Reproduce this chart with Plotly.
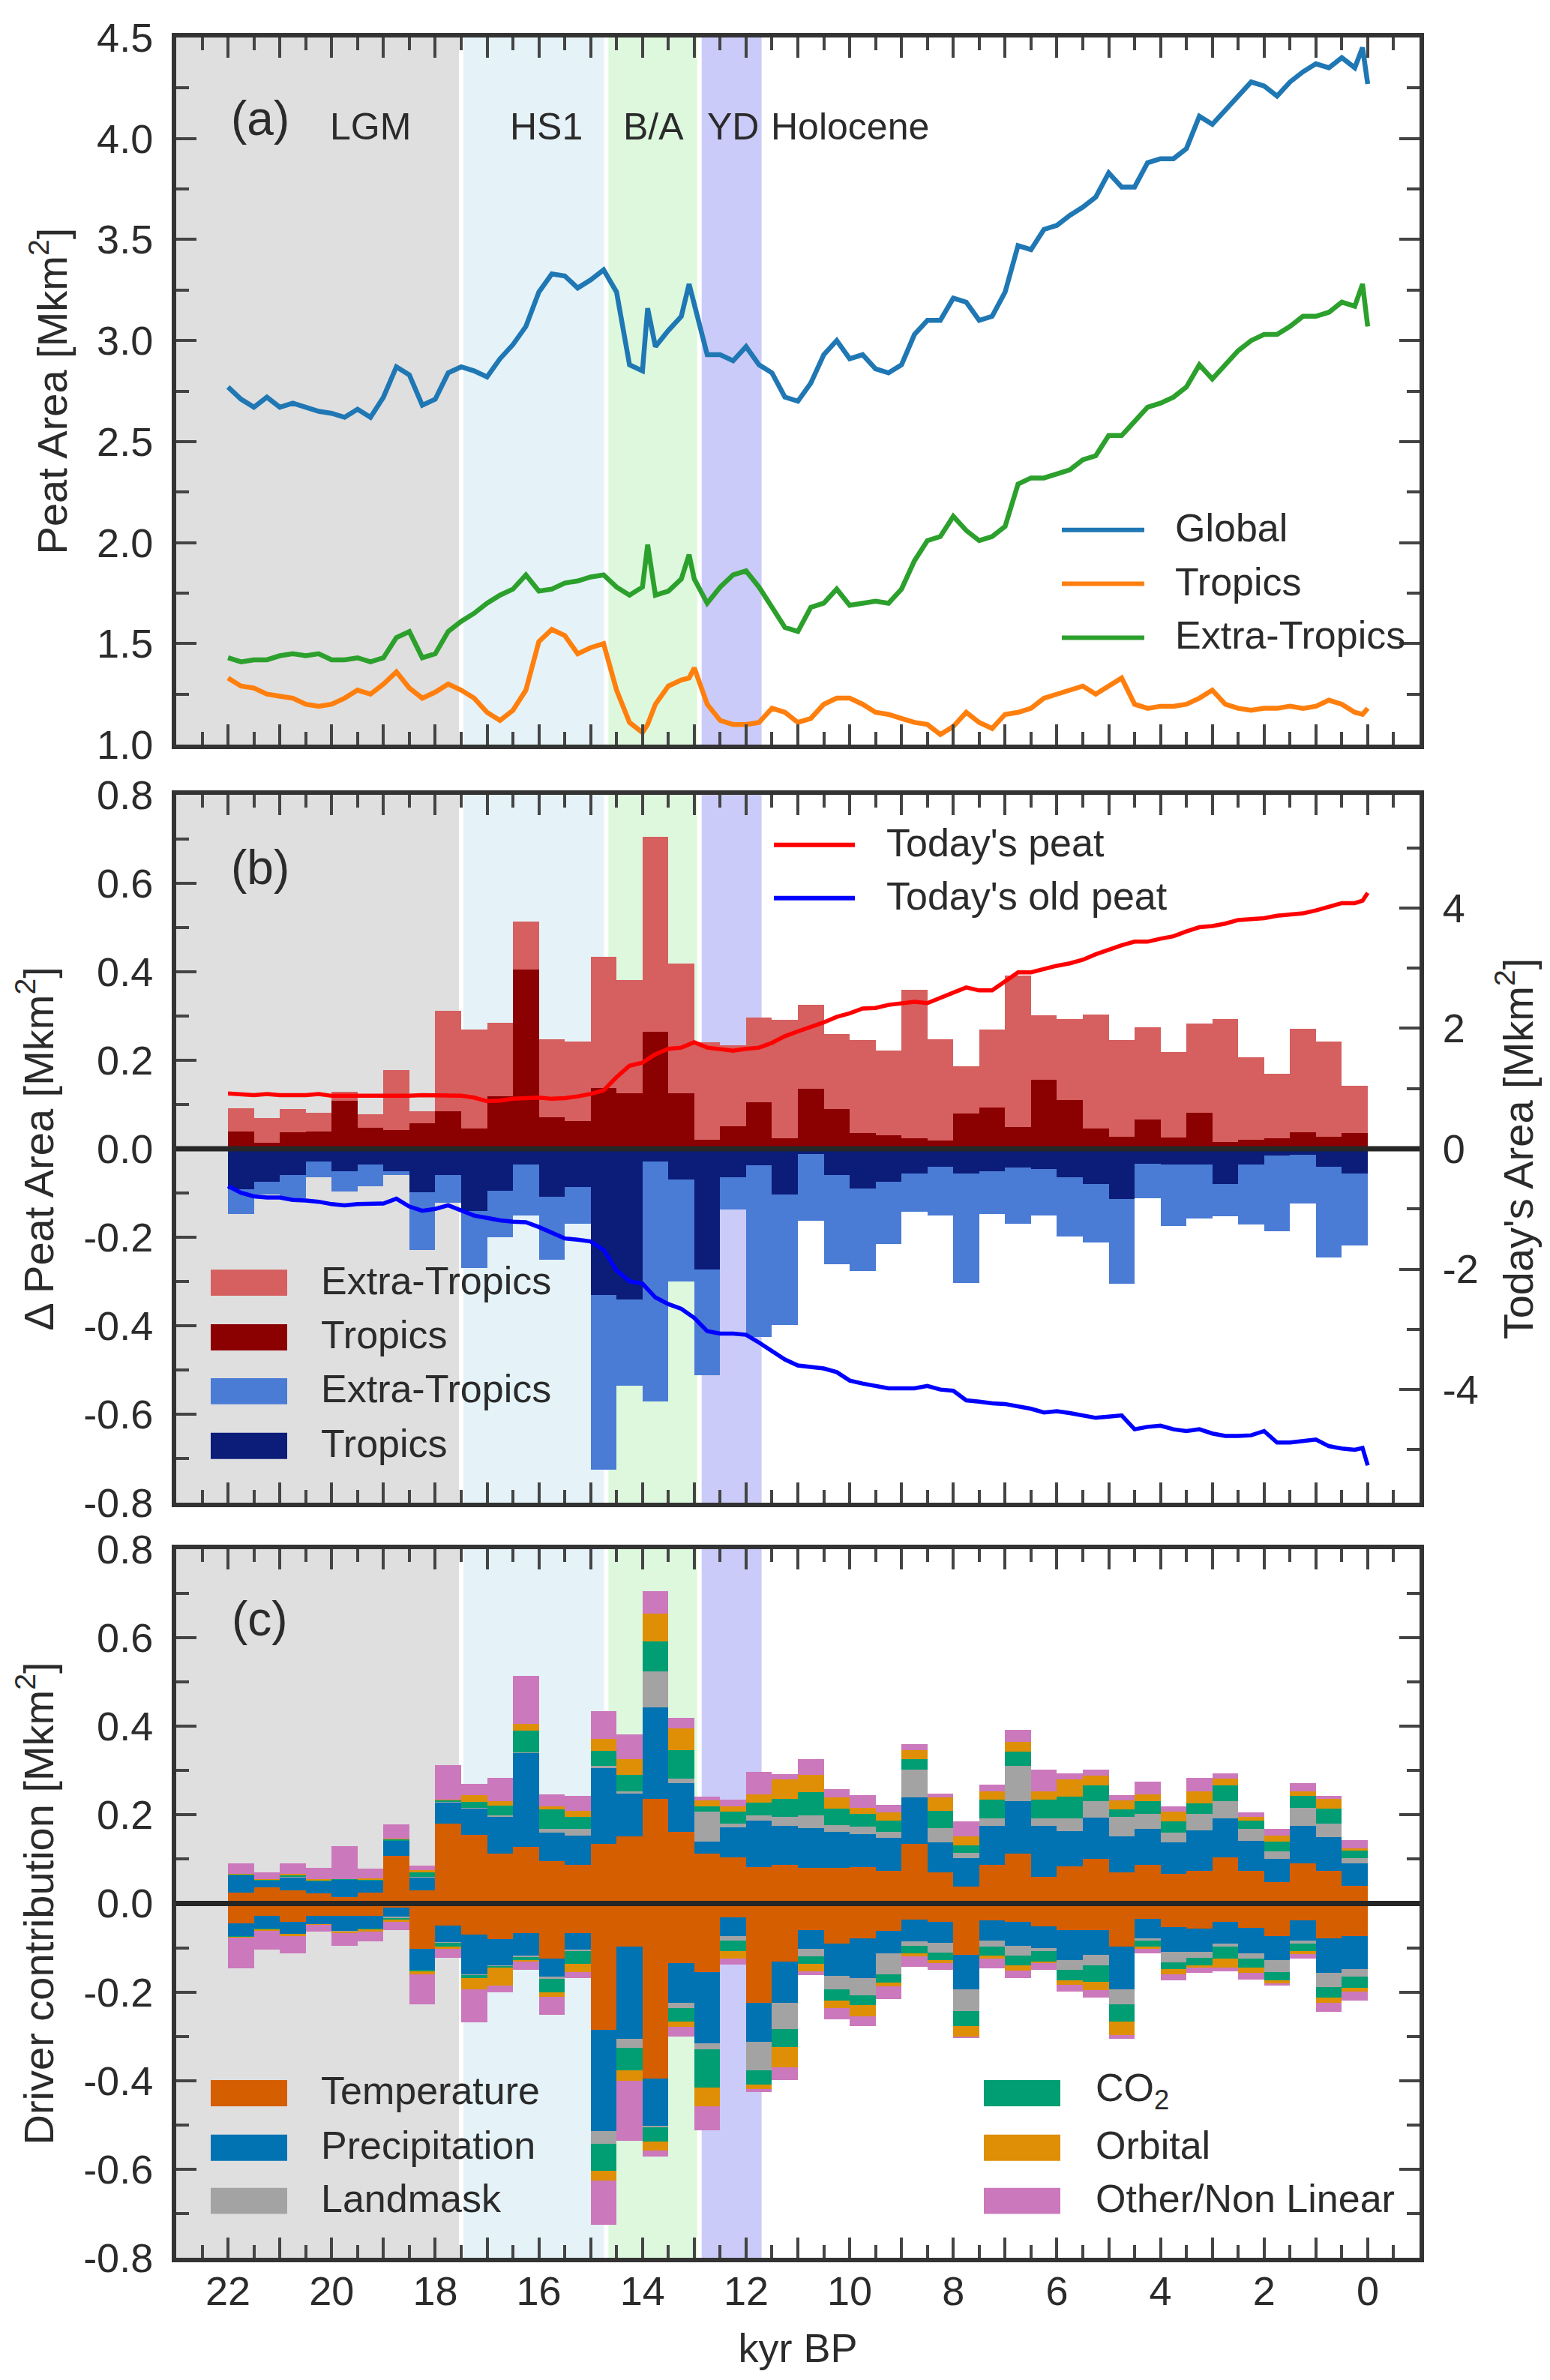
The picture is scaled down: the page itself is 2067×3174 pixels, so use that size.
#!/usr/bin/env python3
"""
Peat area since the Last Glacial Maximum in three stacked panels:
(a) total peat area, (b) gains / losses per 500-yr bin with today's peat,
(c) the contribution of each climate driver to those gains and losses.
"""

import plotly.graph_objects as go

# ---------------------------------------------------------------- panel (a)
AGE_A = [22.0, 21.75, 21.5, 21.25, 21.0, 20.75, 20.5, 20.25, 20.0, 19.75,
         19.5, 19.25, 19.0, 18.75, 18.5, 18.25, 18.0, 17.75, 17.5, 17.25,
         17.0, 16.75, 16.5, 16.25, 16.0, 15.75, 15.5, 15.25, 15.0, 14.75,
         14.5, 14.25, 14.0, 13.9, 13.75, 13.5, 13.25, 13.1, 13.0, 12.75,
         12.5, 12.25, 12.0, 11.75, 11.5, 11.25, 11.0, 10.75, 10.5, 10.25,
         10.0, 9.75, 9.5, 9.25, 9.0, 8.75, 8.5, 8.25, 8.0, 7.75,
         7.5, 7.25, 7.0, 6.75, 6.5, 6.25, 6.0, 5.75, 5.5, 5.25,
         5.0, 4.75, 4.5, 4.25, 4.0, 3.75, 3.5, 3.25, 3.0, 2.75,
         2.5, 2.25, 2.0, 1.75, 1.5, 1.25, 1.0, 0.75, 0.5, 0.25,
         0.1, 0.0]

GLOBAL = [2.77, 2.71, 2.67, 2.72, 2.67, 2.69, 2.67, 2.65,
          2.64, 2.62, 2.66, 2.62, 2.72, 2.87, 2.83, 2.68,
          2.71, 2.84, 2.87, 2.85, 2.82, 2.91, 2.98, 3.07,
          3.24, 3.33, 3.32, 3.26, 3.30, 3.35, 3.24, 2.88,
          2.85, 3.16, 2.97, 3.05, 3.12, 3.28,
          3.18, 2.93, 2.93, 2.90, 2.97, 2.88, 2.84, 2.72,
          2.70, 2.79, 2.93, 3.00, 2.91, 2.93, 2.86, 2.84,
          2.88, 3.03, 3.10, 3.10, 3.21, 3.19, 3.10, 3.12,
          3.24, 3.47, 3.45, 3.55, 3.57, 3.62, 3.66, 3.71,
          3.83, 3.76, 3.76, 3.88, 3.90, 3.90, 3.95, 4.11,
          4.07, 4.14, 4.21, 4.28, 4.26, 4.21, 4.28, 4.33,
          4.37, 4.35, 4.40, 4.35, 4.45, 4.27]

TROPICS = [1.33, 1.29, 1.28, 1.25, 1.24, 1.23, 1.20, 1.19,
           1.20, 1.23, 1.27, 1.25, 1.30, 1.36, 1.28, 1.23,
           1.26, 1.30, 1.27, 1.23, 1.16, 1.12, 1.17, 1.27,
           1.51, 1.57, 1.54, 1.45, 1.48, 1.50, 1.27, 1.11,
           1.06, 1.10, 1.20, 1.29, 1.32, 1.33,
           1.38, 1.20, 1.12, 1.10, 1.10, 1.11, 1.18, 1.16,
           1.11, 1.13, 1.20, 1.23, 1.23, 1.20, 1.16, 1.15,
           1.13, 1.11, 1.10, 1.05, 1.09, 1.16, 1.11, 1.08,
           1.15, 1.16, 1.18, 1.23, 1.25, 1.27, 1.29, 1.25,
           1.29, 1.33, 1.20, 1.18, 1.19, 1.19, 1.20, 1.23,
           1.27, 1.20, 1.18, 1.17, 1.18, 1.18, 1.19, 1.18,
           1.19, 1.22, 1.20, 1.16, 1.15, 1.18]

EXTRA_TROPICS = [1.43, 1.41, 1.42, 1.42, 1.44, 1.45, 1.44, 1.45,
                 1.42, 1.42, 1.43, 1.41, 1.43, 1.53, 1.56, 1.43,
                 1.45, 1.56, 1.61, 1.65, 1.70, 1.74, 1.77, 1.84,
                 1.76, 1.77, 1.80, 1.81, 1.83, 1.84, 1.78, 1.74,
                 1.78, 1.99, 1.74, 1.76, 1.82, 1.94,
                 1.82, 1.70, 1.78, 1.84, 1.86, 1.78, 1.68, 1.58,
                 1.56, 1.68, 1.70, 1.77, 1.69, 1.70, 1.71, 1.70,
                 1.77, 1.91, 2.01, 2.03, 2.13, 2.06, 2.01, 2.03,
                 2.08, 2.29, 2.32, 2.32, 2.34, 2.36, 2.41, 2.43,
                 2.53, 2.53, 2.60, 2.67, 2.69, 2.72, 2.77, 2.88,
                 2.81, 2.88, 2.95, 3.00, 3.03, 3.03, 3.07, 3.12,
                 3.12, 3.14, 3.19, 3.17, 3.28, 3.07]

# ---------------------------------------------------------------- panel (b)
AGE_B = [22.0, 21.75, 21.5, 21.25, 21.0, 20.75, 20.5, 20.25, 20.0, 19.75,
         19.5, 19.25, 19.0, 18.75, 18.5, 18.25, 18.0, 17.75, 17.5, 17.25,
         17.0, 16.75, 16.5, 16.25, 16.0, 15.75, 15.5, 15.25, 15.0, 14.75,
         14.5, 14.25, 14.0, 13.75, 13.5, 13.25, 13.0, 12.75, 12.5, 12.25,
         12.0, 11.75, 11.5, 11.25, 11.0, 10.75, 10.5, 10.25, 10.0, 9.75,
         9.5, 9.25, 9.0, 8.75, 8.5, 8.25, 8.0, 7.75, 7.5, 7.25,
         7.0, 6.75, 6.5, 6.25, 6.0, 5.75, 5.5, 5.25, 5.0, 4.75,
         4.5, 4.25, 4.0, 3.75, 3.5, 3.25, 3.0, 2.75, 2.5, 2.25,
         2.0, 1.75, 1.5, 1.25, 1.0, 0.75, 0.5, 0.25, 0.1, 0.0]

TODAY_PEAT = [0.92, 0.91, 0.89, 0.91, 0.89, 0.89, 0.89, 0.91,
              0.88, 0.88, 0.88, 0.88, 0.87, 0.88, 0.88, 0.89,
              0.89, 0.89, 0.88, 0.85, 0.79, 0.80, 0.83, 0.84,
              0.85, 0.83, 0.84, 0.87, 0.91, 0.97, 1.19, 1.38,
              1.43, 1.57, 1.66, 1.68, 1.77, 1.68, 1.65, 1.63,
              1.66, 1.68, 1.76, 1.87, 1.95, 2.02, 2.10, 2.19,
              2.25, 2.33, 2.34, 2.39, 2.42, 2.44, 2.42, 2.51,
              2.59, 2.68, 2.63, 2.63, 2.78, 2.93, 2.93, 2.99,
              3.04, 3.08, 3.14, 3.23, 3.31, 3.38, 3.44, 3.44,
              3.49, 3.53, 3.61, 3.68, 3.70, 3.74, 3.80, 3.82,
              3.83, 3.87, 3.89, 3.91, 3.96, 4.02, 4.08, 4.08,
              4.12, 4.25]

TODAY_OLD_PEAT = [-0.62, -0.73, -0.79, -0.81, -0.81, -0.85, -0.86, -0.88,
                  -0.92, -0.94, -0.92, -0.92, -0.91, -0.83, -0.96, -1.03,
                  -1.00, -0.94, -1.03, -1.11, -1.15, -1.19, -1.21, -1.22,
                  -1.30, -1.39, -1.49, -1.51, -1.54, -1.68, -2.02, -2.20,
                  -2.24, -2.47, -2.58, -2.66, -2.81, -3.03, -3.07, -3.07,
                  -3.09, -3.22, -3.37, -3.50, -3.60, -3.62, -3.65, -3.71,
                  -3.85, -3.90, -3.94, -3.98, -3.98, -3.98, -3.94, -4.00,
                  -4.02, -4.18, -4.20, -4.23, -4.24, -4.28, -4.32, -4.38,
                  -4.36, -4.39, -4.43, -4.47, -4.45, -4.43, -4.66, -4.62,
                  -4.60, -4.66, -4.69, -4.66, -4.73, -4.77, -4.77, -4.76,
                  -4.69, -4.88, -4.88, -4.85, -4.83, -4.94, -4.98, -5.00,
                  -4.97, -5.26]

# 500-yr bins (centre of each bin, kyr BP)
BIN_AGE = [21.75, 21.25, 20.75, 20.25, 19.75, 19.25, 18.75, 18.25,
           17.75, 17.25, 16.75, 16.25, 15.75, 15.25, 14.75, 14.25,
           13.75, 13.25, 12.75, 12.25, 11.75, 11.25, 10.75, 10.25,
           9.75, 9.25, 8.75, 8.25, 7.75, 7.25, 6.75, 6.25,
           5.75, 5.25, 4.75, 4.25, 3.75, 3.25, 2.75, 2.25,
           1.75, 1.25, 0.75, 0.25]

GAIN_EXTRA = [.052, .057, .053, .042, .020, .031, .135, .028,
              .227, .225, .165, .109, .175, .181, .296, .256,
              .440, .293, .220, .183, .191, .268, .190, .169,
              .209, .191, .337, .230, .107, .175, .343, .146,
              .184, .257, .218, .208, .193, .201, .279, .185,
              .146, .235, .215, .107]
GAIN_TROPICS = [.039, .013, .037, .039, .109, .047, .043, .057,
                .085, .045, .119, .405, .072, .062, .138, .125,
                .265, .126, .021, .051, .106, .024, .136, .090,
                .036, .031, .023, .018, .079, .094, .049, .156,
                .110, .046, .027, .067, .026, .082, .015, .021,
                .023, .037, .028, .036]
LOSS_EXTRA = [-.055, -.030, -.053, -.036, -.045, -.049, -.009, -.129,
              -.063, -.128, -.106, -.114, -.143, -.082, -.396, -.196,
              -.543, -.231, -.240, -.074, -.388, -.295, -.150, -.202,
              -.187, -.141, -.088, -.109, -.249, -.096, -.126, -.105,
              -.134, -.132, -.192, -.079, -.138, -.121, -.074, -.135,
              -.171, -.111, -.205, -.164]
LOSS_TROPICS = [-.092, -.074, -.059, -.028, -.051, -.036, -.051, -.099,
                -.059, -.141, -.094, -.036, -.108, -.087, -.330, -.340,
                -.028, -.069, -.272, -.064, -.038, -.103, -.012, -.059,
                -.089, -.074, -.055, -.041, -.055, -.051, -.043, -.045,
                -.065, -.080, -.113, -.033, -.036, -.036, -.079, -.036,
                -.015, -.013, -.040, -.055]

# ---------------------------------------------------------------- panel (c)
TEMP_POS = [.024, .036, .030, .023, .014, .025, .107, .030,
            .181, .155, .112, .128, .095, .087, .134, .152,
            .236, .161, .113, .105, .082, .088, .080, .080,
            .082, .073, .134, .071, .038, .088, .113, .060,
            .084, .100, .071, .087, .067, .074, .104, .074,
            .049, .090, .074, .040]
PREC_POS = [.041, .016, .030, .028, .040, .027, .035, .029,
            .047, .060, .084, .213, .065, .067, .171, .096,
            .206, .111, .027, .067, .105, .087, .091, .082,
            .075, .075, .106, .067, .064, .087, .119, .116,
            .079, .094, .080, .082, .071, .091, .089, .068,
            .051, .085, .076, .051]
LAND_POS = [0, 0, .001, 0, 0, 0, 0, .001,
            .001, .001, .003, .001, .009, .015, .006, .005,
            .082, .010, .067, .009, .012, .020, .028, .015,
            .016, .014, .062, .033, .012, .018, .078, .017,
            .030, .037, .044, .033, .022, .037, .038, .027,
            .017, .041, .031, .012]
CO2_POS = [.001, .002, .003, .002, .001, .003, .003, .010,
           .004, .014, .022, .049, .043, .027, .033, .037,
           .068, .064, .013, .027, .029, .042, .052, .037,
           .029, .025, .024, .039, .018, .042, .033, .042,
           .049, .035, .017, .029, .026, .024, .036, .018,
           .023, .027, .033, .016]
ORB_POS = [.001, .001, .003, .002, 0, .002, .002, .006,
           .002, .014, .010, .015, .008, .014, .028, .036,
           .062, .049, .013, .011, .018, .043, .039, .026,
           .014, .019, .020, .030, .020, .018, .022, .019,
           .039, .023, .021, .016, .021, .028, .015, .008,
           .014, .010, .022, .006]
OTHER_POS = [.024, .015, .023, .026, .074, .021, .031, .009,
             .077, .026, .053, .108, .027, .033, .062, .055,
             .051, .024, .008, .015, .051, .012, .036, .019,
             .029, .016, .014, .008, .034, .016, .027, .048,
             .013, .014, .012, .028, .012, .029, .012, .011,
             .015, .019, .007, .018]

TEMP_NEG = [-.044, -.028, -.041, -.028, -.028, -.028, -.010, -.103,
            -.050, -.070, -.080, -.067, -.124, -.067, -.286, -.098,
            -.395, -.134, -.155, -.031, -.225, -.131, -.060, -.091,
            -.078, -.062, -.036, -.042, -.116, -.038, -.042, -.052,
            -.060, -.060, -.098, -.034, -.053, -.057, -.042, -.055,
            -.074, -.038, -.078, -.074]
PREC_NEG = [-.030, -.029, -.028, -.019, -.034, -.029, -.019, -.047,
            -.038, -.090, -.060, -.052, -.041, -.038, -.228, -.207,
            -.107, -.091, -.160, -.043, -.087, -.094, -.043, -.072,
            -.090, -.050, -.050, -.047, -.077, -.046, -.054, -.048,
            -.067, -.056, -.096, -.044, -.056, -.052, -.049, -.057,
            -.053, -.046, -.079, -.074]
LAND_NEG = [-.001, -.001, 0, 0, -.002, -.001, -.004, -.001,
            -.001, -.002, -.001, -.002, -.005, -.002, -.029, -.021,
            -.004, -.011, -.015, -.010, -.065, -.059, -.016, -.031,
            -.039, -.048, -.010, -.022, -.050, -.014, -.021, -.007,
            -.023, -.024, -.034, -.006, -.023, -.013, -.007, -.012,
            -.028, -.006, -.032, -.017]
CO2_NEG = [-.001, -.001, -.001, 0, -.001, -.002, -.004, -.002,
           -.008, -.007, -.004, -.006, -.030, -.030, -.060, -.051,
           -.032, -.030, -.085, -.023, -.031, -.040, -.018, -.026,
           -.023, -.019, -.016, -.016, -.033, -.019, -.023, -.024,
           -.023, -.036, -.039, -.014, -.016, -.018, -.026, -.021,
           -.018, -.018, -.023, -.026]
ORB_NEG = [-.001, -.003, -.003, -.001, -.001, -.003, -.004, -.007,
           -.006, -.024, -.041, -.004, -.010, -.018, -.023, -.023,
           -.020, -.013, -.043, -.017, -.011, -.046, -.016, -.016,
           -.025, -.008, -.007, -.007, -.026, -.007, -.012, -.004,
           -.010, -.020, -.030, -.004, -.012, -.005, -.021, -.012,
           -.008, -.006, -.013, -.007]
OTHER_NEG = [-.070, -.042, -.039, -.016, -.030, -.022, -.019, -.068,
             -.019, -.076, -.014, -.019, -.041, -.014, -.100, -.136,
             -.013, -.021, -.054, -.014, -.007, -.028, -.009, -.025,
             -.021, -.028, -.024, -.016, -.002, -.023, -.017, -.015,
             -.016, -.016, -.008, -.010, -.014, -.012, -.008, -.014,
             -.005, -.010, -.020, -.021]

# climate periods (kyr BP)
PERIOD_NAMES = ["LGM", "HS1", "B/A", "YD"]
PERIOD_START = [23.0, 17.5, 14.7, 12.9]
PERIOD_END = [17.5, 14.7, 12.9, 11.7]

# ---------------------------------------------------------------- styling
FONT = "Liberation Sans, Arial, Helvetica, sans-serif"
TEXT = "#2b2b2b"
FRAME = "#333333"
TICK = "#444444"

SIZE_TICK = 54
SIZE_LABEL = 52
SIZE_TITLE = 56
SIZE_PANEL = 64
SIZE_PERIOD = 50

COL_GLOBAL = "#1f77b4"
COL_TROP = "#ff7f0e"
COL_EXTRA = "#2ca02c"
COL_GAIN_EXTRA = "#d65f5f"
COL_GAIN_TROP = "#8b0000"
COL_LOSS_EXTRA = "#4a7bd5"
COL_LOSS_TROP = "#0b1c79"
PERIOD_COLORS = ["#dfdfdf", "#e5f3f8", "#ddf8dd", "#cbcbf9"]

DRIVERS = [
    ("Temperature", "#d55e00", TEMP_POS, TEMP_NEG),
    ("Precipitation", "#0173b2", PREC_POS, PREC_NEG),
    ("Landmask", "#a3a3a3", LAND_POS, LAND_NEG),
    ("CO<sub>2</sub>", "#029e73", CO2_POS, CO2_NEG),
    ("Orbital", "#de8f05", ORB_POS, ORB_NEG),
    ("Other/Non Linear", "#cc78bc", OTHER_POS, OTHER_NEG),
]

# figure geometry in pixels
W, H = 2067, 3174
LEFT, RIGHT, TOP, BOTTOM = 227, 1885, 36, 3003


def px(x):
    """Horizontal pixel -> paper coordinate."""
    return (x - LEFT) / (RIGHT - LEFT)


def py(y):
    """Vertical pixel -> paper coordinate."""
    return (BOTTOM - y) / (BOTTOM - TOP)


def axis_style(**extra):
    """Common matplotlib-'ticks' look for every axis."""
    style = {
        "showline": True,
        "linewidth": 6,
        "linecolor": FRAME,
        "ticks": "inside",
        "ticklen": 27,
        "tickwidth": 4,
        "tickcolor": TICK,
        "showgrid": False,
        "zeroline": False,
        "tickfont": {"size": SIZE_TICK, "color": TEXT},
        "ticklabelstandoff": 14,
    }
    style.update(extra)
    return style


def minor(vals):
    return {"tickvals": vals, "ticks": "inside", "ticklen": 17,
            "tickwidth": 4, "tickcolor": TICK, "showgrid": False}


def fmt(v, nd):
    return f"{v:.{nd}f}"


X_EVEN = list(range(0, 23, 2))
X_ODD = list(range(1, 23, 2))
X_ALL = list(range(0, 23))
X_MINOR = [v + 0.5 for v in range(-1, 23)]

fig = go.Figure()

# ---- panel (a) lines
for name, vals, col in [("Global", GLOBAL, COL_GLOBAL),
                        ("Tropics", TROPICS, COL_TROP),
                        ("Extra-Tropics", EXTRA_TROPICS, COL_EXTRA)]:
    fig.add_trace(go.Scatter(x=AGE_A, y=vals, name=name, mode="lines",
                             line={"color": col, "width": 6.5},
                             xaxis="x", yaxis="y"))

# ---- panel (b) bars + today's peat lines
for name, vals, col in [("Tropics", GAIN_TROPICS, COL_GAIN_TROP),
                        ("Extra-Tropics", GAIN_EXTRA, COL_GAIN_EXTRA),
                        ("Tropics", LOSS_TROPICS, COL_LOSS_TROP),
                        ("Extra-Tropics", LOSS_EXTRA, COL_LOSS_EXTRA)]:
    fig.add_trace(go.Bar(x=BIN_AGE, y=vals, name=name, width=0.5,
                         marker={"color": col, "line": {"width": 0}},
                         xaxis="x2", yaxis="y2"))

fig.add_trace(go.Scatter(x=AGE_B, y=TODAY_PEAT, name="Today's peat",
                         mode="lines", line={"color": "#ff0000", "width": 5.5},
                         xaxis="x2", yaxis="y3"))
fig.add_trace(go.Scatter(x=AGE_B, y=TODAY_OLD_PEAT, name="Today's old peat",
                         mode="lines", line={"color": "#0000ff", "width": 5.5},
                         xaxis="x2", yaxis="y3"))

# ---- panel (c) driver bars (positive stack, then negative stack)
for name, col, pos, _ in DRIVERS:
    fig.add_trace(go.Bar(x=BIN_AGE, y=pos, name=name, width=0.5,
                         marker={"color": col, "line": {"width": 0}},
                         xaxis="x3", yaxis="y4"))
for name, col, _, neg in DRIVERS:
    fig.add_trace(go.Bar(x=BIN_AGE, y=neg, name=name, width=0.5,
                         marker={"color": col, "line": {"width": 0}},
                         xaxis="x3", yaxis="y4"))

# empty trace that carries the unlabelled odd-kyr ticks of panel (c)
fig.add_trace(go.Scatter(x=[], y=[], xaxis="x4", yaxis="y4",
                         hoverinfo="skip"))

# ---- period shading, white separators and zero lines
shapes = []
for xr, yr in [("x", "y domain"), ("x2", "y2 domain"), ("x3", "y4 domain")]:
    for x0, x1, col in zip(PERIOD_START, PERIOD_END, PERIOD_COLORS):
        shapes.append({"type": "rect", "xref": xr, "yref": yr,
                       "x0": x0, "x1": x1, "y0": 0, "y1": 1,
                       "fillcolor": col, "line": {"width": 0},
                       "layer": "below"})
    for xb in PERIOD_END[:3]:
        shapes.append({"type": "line", "xref": xr, "yref": yr,
                       "x0": xb, "x1": xb, "y0": 0, "y1": 1,
                       "line": {"color": "white", "width": 6},
                       "layer": "below"})
for xr, yr in [("x2 domain", "y2"), ("x3 domain", "y4")]:
    shapes.append({"type": "line", "xref": xr, "yref": yr,
                   "x0": 0, "x1": 1, "y0": 0, "y1": 0,
                   "line": {"color": "#262626", "width": 7},
                   "layer": "above"})

annotations = []


def label(x, y, text, size=SIZE_LABEL, xref="paper", yref="paper",
          xanchor="left"):
    annotations.append({"x": x, "y": y, "xref": xref, "yref": yref,
                        "text": text, "showarrow": False,
                        "xanchor": xanchor, "yanchor": "middle",
                        "font": {"size": size, "color": TEXT}})


# panel letters and period names
label(21.38, 4.10, "(a)", SIZE_PANEL, "x", "y", "center")
label(21.38, 0.635, "(b)", SIZE_PANEL, "x2", "y2", "center")
label(21.38, 0.642, "(c)", SIZE_PANEL, "x3", "y4", "center")
for txt, xc in zip(PERIOD_NAMES + ["Holocene"],
                   [19.25, 15.85, 13.78, 12.25, 10.0]):
    label(xc, 4.06, txt, SIZE_PERIOD, "x", "y", "center")


def line_key(x0, x1, xt, y, col, text, width):
    shapes.append({"type": "line", "xref": "paper", "yref": "paper",
                   "x0": px(x0), "x1": px(x1), "y0": py(y), "y1": py(y),
                   "line": {"color": col, "width": width}})
    label(px(xt), py(y - 3), text)


def patch_key(x0, x1, xt, y, col, text):
    shapes.append({"type": "rect", "xref": "paper", "yref": "paper",
                   "x0": px(x0), "x1": px(x1),
                   "y0": py(y + 17.5), "y1": py(y - 17.5),
                   "fillcolor": col, "line": {"width": 0}})
    label(px(xt), py(y - 3), text)


# legend (a)
for y, col, txt in [(694, COL_GLOBAL, "Global"), (766, COL_TROP, "Tropics"),
                    (838, COL_EXTRA, "Extra-Tropics")]:
    line_key(1408, 1518, 1557, y, col, txt, 6)
# legend (b)
line_key(1024, 1132, 1172, 1115, "#ff0000", "Today's peat", 6)
line_key(1024, 1132, 1172, 1186, "#0000ff", "Today's old peat", 6)
for y, col, txt in [(1700, COL_GAIN_EXTRA, "Extra-Tropics"),
                    (1773, COL_GAIN_TROP, "Tropics"),
                    (1845, COL_LOSS_EXTRA, "Extra-Tropics"),
                    (1918, COL_LOSS_TROP, "Tropics")]:
    patch_key(273, 375, 418, y, col, txt)
# legend (c)
rows = [2783, 2856, 2927]
for i, (name, col, _, _) in enumerate(DRIVERS):
    if i < 3:
        patch_key(273, 375, 418, rows[i], col, name)
    else:
        patch_key(1304, 1406, 1451, rows[i - 3], col, name)

Y_A = [1.0 + 0.5 * i for i in range(8)]
Y_A_MINOR = [1.25 + 0.5 * i for i in range(7)]
Y_B = [-0.8 + 0.2 * i for i in range(9)]
Y_B_MINOR = [-0.7 + 0.2 * i for i in range(8)]
Y_R = [-4, -2, 0, 2, 4]
Y_R_MINOR = [-5, -3, -1, 1, 3, 5]

DOM_A = [py(981), py(TOP)]
DOM_B = [py(1994), py(1048)]
DOM_C = [0, py(2056)]

title_font = {"size": SIZE_TITLE, "color": TEXT}

fig.update_layout(
    width=W, height=H,
    margin={"l": LEFT, "r": W - RIGHT, "t": TOP, "b": H - BOTTOM},
    paper_bgcolor="white", plot_bgcolor="white",
    font={"family": FONT, "size": SIZE_LABEL, "color": TEXT},
    barmode="relative", bargap=0, showlegend=False,
    shapes=shapes, annotations=annotations,
    xaxis=axis_style(domain=[0, 1], anchor="y", range=[23, -1],
                     tickmode="array", tickvals=X_ALL,
                     showticklabels=False, mirror="ticks",
                     minor=minor(X_MINOR)),
    xaxis2=axis_style(domain=[0, 1], anchor="y2", range=[23, -1],
                      tickmode="array", tickvals=X_ALL,
                      showticklabels=False, mirror="ticks",
                      minor=minor(X_MINOR)),
    xaxis3=axis_style(domain=[0, 1], anchor="y4", range=[23, -1],
                      tickmode="array", tickvals=X_EVEN,
                      ticktext=[str(v) for v in X_EVEN],
                      ticklabelstandoff=-8,
                      mirror="ticks", minor=minor(X_MINOR),
                      title={"text": "kyr BP",
                             "font": {"size": 54, "color": TEXT},
                             "standoff": 30}),
    xaxis4=axis_style(overlaying="x3", anchor="y4", range=[23, -1],
                      tickmode="array", tickvals=X_ODD,
                      showticklabels=False, showline=False,
                      mirror="ticks"),
    yaxis=axis_style(domain=DOM_A, anchor="x", range=[1.0, 4.5],
                     tickmode="array", tickvals=Y_A,
                     ticktext=[fmt(v, 1) for v in Y_A],
                     mirror="ticks", minor=minor(Y_A_MINOR),
                     title={"text": "Peat Area [Mkm<sup>2</sup>]",
                            "font": title_font, "standoff": 24}),
    yaxis2=axis_style(domain=DOM_B, anchor="x2", range=[-0.8, 0.8],
                      tickmode="array", tickvals=Y_B,
                      ticktext=[fmt(v, 1).replace("-0.0", "0.0") for v in Y_B],
                      mirror=True, minor=minor(Y_B_MINOR),
                      title={"text": "\u0394 Peat Area [Mkm<sup>2</sup>]",
                             "font": title_font, "standoff": 24}),
    yaxis3=axis_style(overlaying="y2", side="right", anchor="x2",
                      range=[-5.88, 5.88], tickmode="array", tickvals=Y_R,
                      ticktext=[str(v) for v in Y_R],
                      minor=minor(Y_R_MINOR),
                      title={"text": "Today's Area [Mkm<sup>2</sup>]",
                             "font": title_font, "standoff": 36}),
    yaxis4=axis_style(domain=DOM_C, anchor="x3", range=[-0.8, 0.8],
                      tickmode="array", tickvals=Y_B,
                      ticktext=[fmt(v, 1).replace("-0.0", "0.0") for v in Y_B],
                      mirror="ticks", minor=minor(Y_B_MINOR),
                      title={"text": "Driver contribution [Mkm<sup>2</sup>]",
                             "font": title_font, "standoff": 24}),
)

fig.write_html("out.html")
